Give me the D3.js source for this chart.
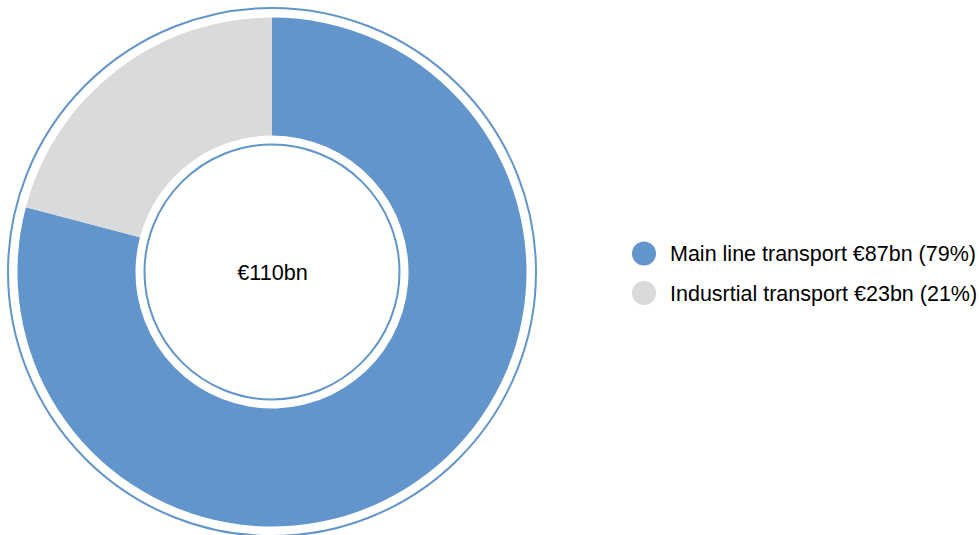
<!DOCTYPE html>
<html><head><meta charset="utf-8">
<script src="https://cdn.jsdelivr.net/npm/d3@7"></script>
<style>html,body{margin:0;padding:0;background:#fff;}svg{display:block;font-family:"Liberation Sans",Arial,Helvetica,sans-serif;}</style>
</head><body>
<svg id="chart" width="979" height="535"></svg>
<script>
const categories = ["Main line transport", "Indusrtial transport"];
const values = [87, 23];
const labels = ["Main line transport €87bn (79%)", "Indusrtial transport €23bn (21%)"];
const colors = ["#6195cb", "#d9dadc"];
const totalLabel = "€110bn";

const svg = d3.select("#chart");
const cx = 272, cy = 272;
const g = svg.append("g").attr("transform", `translate(${cx},${cy})`);

const pie = d3.pie().sort(null).value(d => d)(values);
const arc = d3.arc().innerRadius(136.5).outerRadius(254.5);

g.selectAll("path.slice").data(pie).enter().append("path")
  .attr("class", "slice")
  .attr("d", arc)
  .attr("fill", (d, i) => colors[i]);

g.append("circle").attr("r", 264).attr("fill", "none").attr("stroke", colors[0]).attr("stroke-width", 2);
g.append("circle").attr("r", 127.5).attr("fill", "none").attr("stroke", colors[0]).attr("stroke-width", 2);

g.append("text").attr("x", 0.5).attr("text-anchor", "middle").attr("dy", "0.36em")
  .attr("font-size", 21.6).attr("fill", "#000").text(totalLabel);

const legend = svg.append("g");
const ly = d3.scalePoint().domain(categories).range([253.5, 293]);
categories.forEach((c, i) => {
  legend.append("circle").attr("cx", 644).attr("cy", ly(c)).attr("r", 12).attr("fill", colors[i]);
  legend.append("text").attr("x", 670).attr("y", ly(c)).attr("dy", "0.36em")
    .attr("font-size", 21.5).attr("fill", "#000").text(labels[i]);
});
</script>
</body></html>
